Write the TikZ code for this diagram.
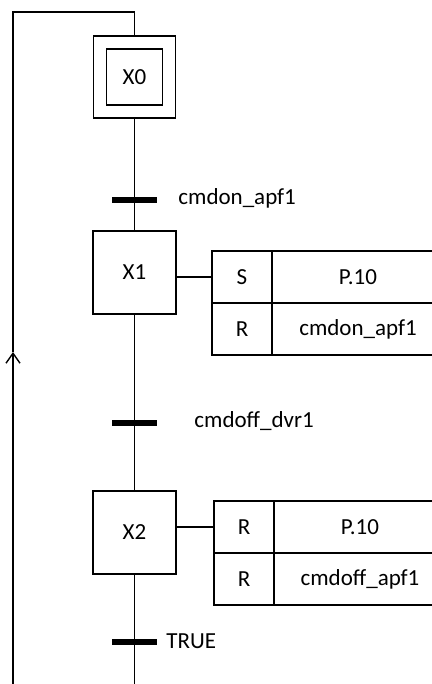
\documentclass[tikz,border=0pt]{standalone}
\usepackage{fontspec}
\setmainfont{Carlito}
\usetikzlibrary{arrows.meta}

\tikzset{
  ligne/.style={line width=0.7pt},
  etape/.style={draw, line width=0.7pt, minimum size=41.5pt, inner sep=0pt},
  barre/.style={fill=black, minimum width=22.5pt, minimum height=3pt, inner sep=0pt},
  recept/.style={anchor=west, inner sep=0pt},
  qualif/.style={draw, line width=0.9pt, minimum width=30pt, minimum height=26pt, inner sep=0pt},
  action/.style={draw, line width=0.9pt, minimum width=86pt, minimum height=26pt, inner sep=0pt}
}

\begin{document}
\begin{tikzpicture}[x=0.5pt, y=-0.5pt, >={Straight Barb[length=5pt,width=7pt]},
    font=\fontsize{11.5}{13.8}\selectfont]
  \useasboundingbox (0,0) rectangle (432,684);
  \clip (0,0) rectangle (432,684);

  \coordinate (haut) at (134.5,12);
  \coordinate (coin) at (13,12);
  \coordinate (fleche) at (13,352);
  \coordinate (depart) at (13,684);
  \coordinate (fin) at (134.5,684);

  \node[etape, minimum size=41pt] (X0o) at (134.5,77) {};
  \node[etape, minimum size=28pt] (X0) at (X0o) {X0};
  \node[etape] (X1) at (134.5,272.5) {X1};
  \node[etape] (X2) at (134.5,532.5) {X2};

  \node[barre] (t01) at (134.5,200) {};
  \node[barre] (t12) at (134.5,423) {};
  \node[barre] (t20) at (134.5,642) {};
  \node[recept] (r01) at (178,198) {cmdon\_apf1};
  \node[recept] (r12) at (194,421) {cmdoff\_dvr1};
  \node[recept] (r20) at (166,641) {TRUE};

  \node[qualif] (q1) at (242,277) {S};
  \node[action] (a1) at (358,277) {P.10};
  \node[qualif] (q2) at (242,329) {R};
  \node[action] (a2) at (358,329) {cmdon\_apf1};
  \node[qualif] (q3) at (244,527) {R};
  \node[action] (a3) at (360,527) {P.10};
  \node[qualif] (q4) at (244,579) {R};
  \node[action] (a4) at (360,579) {cmdoff\_apf1};

  \draw[ligne] (X0o) -- (t01) -- (X1) -- (t12) -- (X2) -- (t20) -- (fin);
  \draw[ligne] (q1.west -| X1.east) -- (q1.west);
  \draw[ligne] (q3.west -| X2.east) -- (q3.west);

  \draw[ligne] (X0o.north) -- (haut) -- (coin) -- (fleche);
  \draw[ligne, ->] (depart) -- (fleche);
\end{tikzpicture}
\end{document}
